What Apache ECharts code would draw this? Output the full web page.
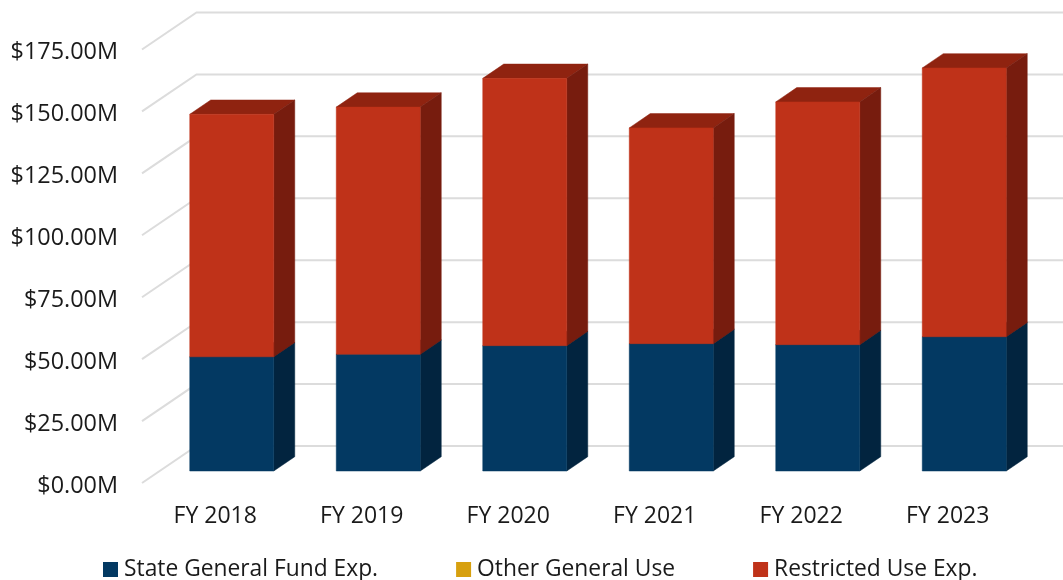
<!DOCTYPE html>
<html><head><meta charset="utf-8">
<style>html,body{margin:0;padding:0;background:#fff}#c{width:1063px;height:580px}</style>
<script src="https://cdn.jsdelivr.net/npm/echarts@6/dist/echarts.min.js"></script>
</head><body><div id="c"></div>
<script>
const categories = ['FY 2018','FY 2019','FY 2020','FY 2021','FY 2022','FY 2023'];
const stateGeneralFund = [46.1, 47.1, 50.6, 51.4, 51.0, 54.2];
const otherGeneralUse = [0, 0, 0, 0, 0, 0];
const restrictedUse = [97.9, 99.8, 107.9, 87.1, 98.0, 108.5];
const yTicks = [0, 25, 50, 75, 100, 125, 150, 175];

const FONT = 'Open Sans';
const chart = echarts.init(document.getElementById('c'), null, {renderer:'canvas'});
const floorDx = 54.5, floorDy = 37;
const frontDx = 16.5, frontDy = 12, sideDx = 21, sideDy = 14.3, halfW = 42;

function poly(points, fill){
  return {type:'polygon', shape:{points}, style:{fill, stroke:fill, lineWidth:0.5}};
}
function segment(colors){
  return function(params, api){
    const base = api.value(1), top = api.value(2);
    if (top - base <= 0) return null;
    const c = api.coord([api.value(0), base]);
    const t = api.coord([api.value(0), top]);
    const xl = c[0] + frontDx - halfW, xr = c[0] + frontDx + halfW;
    const yb = c[1] - frontDy, yt = t[1] - frontDy;
    return {type:'group', children:[
      poly([[xl,yt],[xl+sideDx,yt-sideDy],[xr+sideDx,yt-sideDy],[xr,yt]], colors.top),
      poly([[xr,yb],[xr+sideDx,yb-sideDy],[xr+sideDx,yt-sideDy],[xr,yt]], colors.side),
      poly([[xl,yb],[xr,yb],[xr,yt],[xl,yt]], colors.front)
    ]};
  };
}
const stackData = (vals, below) => vals.map((v,i)=>[i, below[i], below[i]+v]);
const belowOther = stateGeneralFund;
const belowRestricted = stateGeneralFund.map((v,i)=>v+otherGeneralUse[i]);

chart.setOption({
  animation:false,
  backgroundColor:'#fff',
  textStyle:{fontFamily:FONT},
  grid:{left:142,right:42,top:49.5,bottom:97},
  xAxis:{type:'category',data:categories,axisLine:{show:false},axisTick:{show:false},
    axisLabel:{fontFamily:FONT,fontSize:23,color:'#1a1a1a',margin:22}},
  yAxis:{type:'value',min:0,max:175,interval:25,axisLine:{show:false},axisTick:{show:false},splitLine:{show:false},
    axisLabel:{fontFamily:FONT,fontSize:23.4,color:'#1a1a1a',margin:24,verticalAlign:'top',lineHeight:6,formatter:v=>'$'+v.toFixed(2)+'M'}},
  legend:{show:true,left:98,bottom:-6,icon:'rect',itemWidth:15,itemHeight:15,itemGap:78,
    data:['State General Fund Exp.','Other General Use','Restricted Use Exp.'],
    selectedMode:false,
    textStyle:{fontFamily:FONT,fontSize:22.8,color:'#1a1a1a',padding:[0,0,0,1]}},
  series:[
    {type:'custom',name:'grid',silent:true,clip:false,data:yTicks.map(v=>[v]),encode:{y:0},
     renderItem(params,api){
       const p = api.coord([0,api.value(0)]);
       const cs = params.coordSys;
       const x0 = cs.x, y0 = p[1];
       return {type:'polyline',shape:{points:[[x0,y0],[x0+floorDx,y0-floorDy],[1063,y0-floorDy]]},
         style:{stroke:'#dcdcdc',lineWidth:2,fill:null}};
     }},
    {type:'custom',name:'State General Fund Exp.',clip:false,itemStyle:{color:'#033962'},
     data:stackData(stateGeneralFund,stateGeneralFund.map(()=>0)),encode:{x:0,y:2},
     renderItem:segment({front:'#033962',side:'#02243f',top:'#022c4d'})},
    {type:'custom',name:'Other General Use',clip:false,itemStyle:{color:'#d7a00f'},
     data:stackData(otherGeneralUse,belowOther),encode:{x:0,y:2},
     renderItem:segment({front:'#d7a00f',side:'#8a6a09',top:'#a67f0b'})},
    {type:'custom',name:'Restricted Use Exp.',clip:false,itemStyle:{color:'#bf3219'},
     data:stackData(restrictedUse,belowRestricted),encode:{x:0,y:2},
     renderItem:segment({front:'#bf3219',side:'#771c0e',top:'#8f2310'})}
  ]
});
</script></body></html>
